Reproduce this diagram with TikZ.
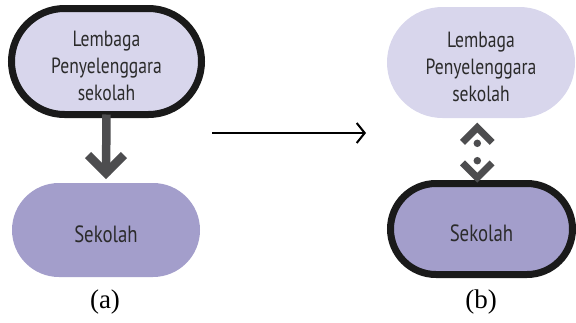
\documentclass[tikz,border=0pt]{standalone}
\usepackage{fontspec}
\setmainfont{Liberation Serif}
\newfontfamily\boxfont[FakeStretch=0.8]{PT Sans}
\usetikzlibrary{shapes.misc,arrows.meta}
\definecolor{lightlav}{HTML}{D8D6EC}
\definecolor{darklav}{HTML}{A39ECB}
\definecolor{bordercol}{HTML}{1A1A1A}
\definecolor{arrowgray}{HTML}{4D4D4F}
\definecolor{txt}{HTML}{2B2B2B}
\newcommand{\toplift}{\rule{0pt}{24pt}}
\newcommand{\botlift}{\rule{0pt}{24.5pt}}
\tikzset{
  pill/.style={rounded rectangle, inner sep=0pt, outer sep=0pt, align=center,
    font=\boxfont\fontsize{22}{26.7}\selectfont, text=txt},
  pillbig/.style={pill, font=\boxfont\fontsize{23.5}{28}\selectfont},
  heavy/.style={draw=bordercol, line width=7pt},
  thickarrow/.style={draw=arrowgray, line width=8.5pt},
  chevron/.style={draw=arrowgray, line width=7pt, miter limit=10},
  bigchevron/.style={draw=arrowgray, line width=8.5pt, miter limit=10},
  dotmark/.style={circle, fill=arrowgray, minimum size=7.5pt, inner sep=0pt},
  lbl/.style={font=\fontsize{27}{30}\selectfont, text=black},
  thinarrow/.style={draw=black, line width=1.5pt, -{Straight Barb[length=8pt,width=20pt,line width=2pt]}}
}
\begin{document}
\begin{tikzpicture}[x=1pt,y=-1pt]
\useasboundingbox (0,0) rectangle (576,322);
% panel (a)
\node[pill, heavy, fill=lightlav, minimum width=190pt, minimum height=106pt] (lt) at (106.5,61.5)
  {\toplift Lembaga\\Penyelenggara\\sekolah};
\node[pillbig, fill=darklav, minimum width=188pt, minimum height=94pt] (lb) at (106,230) {\botlift Sekolah};
\draw[thickarrow] (lt.south) -- ([yshift=8pt]lb.north);
\draw[bigchevron] ([xshift=-18pt,yshift=28pt]lb.north) -- ([yshift=10pt]lb.north) -- ([xshift=18pt,yshift=28pt]lb.north);
\node[lbl] (la) at (105,302) {(a)};
% middle arrow
\coordinate (m1) at (212,133);
\coordinate (m2) at (366,133);
\draw[thinarrow] (m1) -- (m2);
% panel (b)
\node[pill, fill=lightlav, minimum width=188pt, minimum height=111pt] (rt) at (481,62.5)
  {\toplift Lembaga\\Penyelenggara\\sekolah};
\node[pillbig, heavy, fill=darklav, minimum width=182pt, minimum height=91pt] (rb) at (481.5,229) {\botlift Sekolah};
\draw[chevron] ([xshift=-18.5pt,yshift=-24.4pt]rt.south) -- ([xshift=-3.7pt,yshift=-9.6pt]rt.south) -- ([xshift=11.1pt,yshift=-24.4pt]rt.south);
\node[dotmark] (d1) at (477.3,143.3) {};
\node[dotmark] (d2) at (477.3,160.7) {};
\draw[chevron] ([xshift=-19pt,yshift=20.6pt]rb.north) -- ([xshift=-4.2pt,yshift=5.8pt]rb.north) -- ([xshift=10.6pt,yshift=20.6pt]rb.north);
\node[lbl] (lbb) at (481,302) {(b)};
\end{tikzpicture}
\end{document}
